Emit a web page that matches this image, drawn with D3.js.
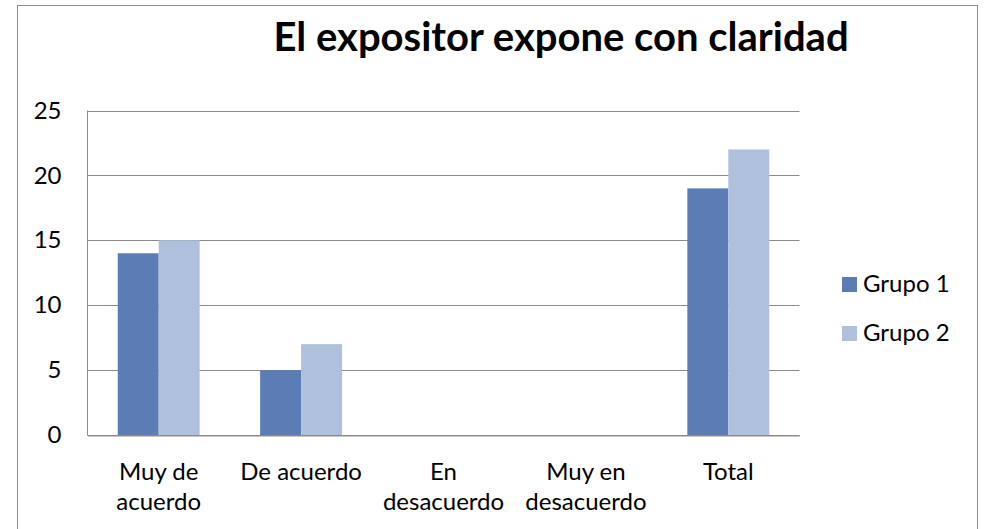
<!DOCTYPE html>
<html>
<head>
<meta charset="utf-8">
<script src="https://cdn.jsdelivr.net/npm/d3@7"></script>
<style>
  body { margin: 0; background: #fff; }
  svg { display: block; font-family: Lato, "Open Sans", sans-serif; }
</style>
</head>
<body>
<svg id="chart"></svg>
<script>
// data
var categories = [["Muy de", "acuerdo"], ["De acuerdo"], ["En", "desacuerdo"], ["Muy en", "desacuerdo"], ["Total"]];
var series = ["Grupo 1", "Grupo 2"];
var grupo1 = [14, 5, 0, 0, 19];
var grupo2 = [15, 7, 0, 0, 22];
var yTicks = [0, 5, 10, 15, 20, 25];
var colors = ["#5b7cb5", "#afc0dd"];

var svgWidth = 984, svgHeight = 529;
var svg = d3.select("#chart")
    .attr("width", svgWidth)
    .attr("height", svgHeight);

// chart frame
svg.append("rect")
    .attr("x", 17.5).attr("y", 5.5)
    .attr("width", 960).attr("height", 540)
    .attr("fill", "none")
    .attr("stroke", "#8c8c8c");

svg.append("text")
    .attr("x", 561).attr("y", 51)
    .attr("text-anchor", "middle")
    .attr("font-size", 40)
    .attr("font-weight", "bold")
    .text("El expositor expone con claridad");

var plotLeft = 87.5, plotRight = 799.5, plotTop = 110.5, plotBottom = 435;
var keys = categories.map(function(d) { return d.join(" "); });

var x = d3.scaleBand().domain(keys).range([plotLeft, plotRight]).padding(0);
var x1 = d3.scaleBand().domain(series).range([0, x.bandwidth()]).paddingOuter(0.738);
var y = d3.scaleLinear().domain([0, 25]).range([plotBottom, plotTop]);

// gridlines
svg.append("g")
    .selectAll("line")
    .data(yTicks)
    .join("line")
    .attr("x1", plotLeft).attr("x2", plotRight)
    .attr("y1", function(d) { return Math.round(y(d)) + 0.5; })
    .attr("y2", function(d) { return Math.round(y(d)) + 0.5; })
    .attr("stroke", "#8c8c8c");

// bars
var rows = keys.map(function(k, i) { return {key: k, values: [grupo1[i], grupo2[i]]}; });
svg.append("g")
    .selectAll("g")
    .data(rows)
    .join("g")
    .attr("transform", function(d) { return "translate(" + x(d.key) + ",0)"; })
    .selectAll("rect")
    .data(function(d) { return d.values.map(function(v, j) { return {s: series[j], v: v, j: j}; }); })
    .join("rect")
    .attr("x", function(d) { return x1(d.s); })
    .attr("width", x1.bandwidth())
    .attr("y", function(d) { return y(d.v); })
    .attr("height", function(d) { return y(0) - y(d.v); })
    .attr("fill", function(d) { return colors[d.j]; });

// y axis
var yAxis = svg.append("g")
    .attr("transform", "translate(" + plotLeft + ",0)")
    .call(d3.axisLeft(y).tickValues(yTicks).tickSize(0).tickPadding(26))
    .attr("font-family", null)
    .attr("font-size", 24);
yAxis.select(".domain").attr("stroke", "#8c8c8c").attr("d", "M0," + plotTop + "V" + (Math.round(plotBottom) + 0.5));
yAxis.selectAll("text").attr("fill", "#000");

// x axis
var xAxis = svg.append("g")
    .attr("transform", "translate(0," + (Math.round(plotBottom) + 0.5) + ")")
    .call(d3.axisBottom(x).tickSize(0).tickFormat(""))
    .attr("font-family", null)
    .attr("font-size", 24);
xAxis.select(".domain").attr("stroke", "#8c8c8c");
xAxis.selectAll(".tick text").remove();
xAxis.selectAll(".tick")
    .append("text")
    .attr("fill", "#000")
    .attr("text-anchor", "middle")
    .selectAll("tspan")
    .data(function(d, i) { return categories[i]; })
    .join("tspan")
    .attr("x", 0)
    .attr("y", function(d, i) { return 44 + i * 30; })
    .text(function(d) { return d; });

// legend
var legend = svg.append("g")
    .selectAll("g")
    .data(series)
    .join("g")
    .attr("transform", function(d, i) { return "translate(842," + (277 + i * 49) + ")"; });
legend.append("rect")
    .attr("width", 15).attr("height", 15)
    .attr("fill", function(d, i) { return colors[i]; });
legend.append("text")
    .attr("x", 21).attr("y", 15)
    .attr("font-size", 24)
    .text(function(d) { return d; });
</script>
</body>
</html>
